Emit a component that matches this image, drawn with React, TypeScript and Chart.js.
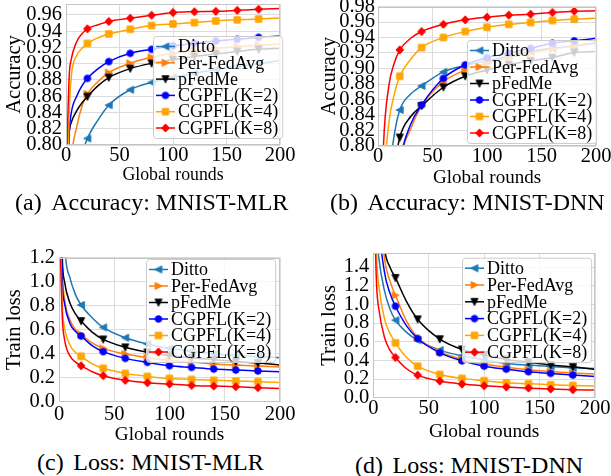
import React, { useEffect, useRef } from 'react';
import { Chart, registerables } from 'chart.js';

Chart.register(...registerables);

// ---------------- data ----------------
const rounds = [1, 3, 5, 10, 15, 20, 30, 40, 60, 80, 100, 120, 140, 160, 180, 200];
const xTickValues = [0, 50, 100, 150, 200];
const seriesNames = ['Ditto', 'Per-FedAvg', 'pFedMe', 'CGPFL(K=2)', 'CGPFL(K=4)', 'CGPFL(K=8)'];

// (a) Accuracy: MNIST-MLR
const accMlrDitto = [0.60, 0.65, 0.69, 0.75, 0.788, 0.808, 0.831, 0.849, 0.868, 0.877, 0.883, 0.888, 0.893, 0.897, 0.900, 0.904];
const accMlrPerFedAvg = [0.60, 0.72, 0.78, 0.822, 0.848, 0.863, 0.878, 0.889, 0.9005, 0.908, 0.913, 0.916, 0.919, 0.921, 0.923, 0.924];
const accMlrPFedMe = [0.76, 0.815, 0.828, 0.842, 0.852, 0.8595, 0.873, 0.883, 0.894, 0.9005, 0.905, 0.909, 0.912, 0.915, 0.9177, 0.919];
const accMlrK2 = [0.74, 0.815, 0.84, 0.86, 0.873, 0.882, 0.894, 0.9026, 0.9128, 0.9177, 0.922, 0.925, 0.928, 0.930, 0.9325, 0.934];
const accMlrK4 = [0.74, 0.84, 0.885, 0.91, 0.919, 0.925, 0.932, 0.9366, 0.9424, 0.947, 0.949, 0.9506, 0.9526, 0.954, 0.955, 0.9563];
const accMlrK8 = [0.80, 0.885, 0.906, 0.927, 0.937, 0.943, 0.948, 0.952, 0.956, 0.9596, 0.963, 0.964, 0.9645, 0.9657, 0.967, 0.968];

// (b) Accuracy: MNIST-DNN
const accDnnDitto = [0.50, 0.60, 0.67, 0.76, 0.815, 0.8465, 0.867, 0.8775, 0.8956, 0.9038, 0.910, 0.916, 0.922, 0.926, 0.929, 0.9326];
const accDnnPerFedAvg = [0.40, 0.50, 0.55, 0.65, 0.72, 0.78, 0.822, 0.8517, 0.883, 0.898, 0.907, 0.914, 0.920, 0.925, 0.929, 0.934];
const accDnnPFedMe = [0.40, 0.50, 0.55, 0.70, 0.77, 0.811, 0.838, 0.8517, 0.8758, 0.890, 0.898, 0.905, 0.910, 0.914, 0.9206, 0.922];
const accDnnK2 = [0.40, 0.50, 0.55, 0.65, 0.72, 0.78, 0.828, 0.853, 0.8874, 0.9047, 0.914, 0.920, 0.926, 0.9326, 0.9357, 0.939];
const accDnnK4 = [0.50, 0.65, 0.74, 0.83, 0.867, 0.890, 0.912, 0.927, 0.940, 0.9477, 0.9533, 0.957, 0.9594, 0.962, 0.9637, 0.965];
const accDnnK8 = [0.50, 0.70, 0.80, 0.878, 0.907, 0.924, 0.939, 0.9477, 0.957, 0.9628, 0.9662, 0.9688, 0.970, 0.9723, 0.974, 0.9744];

// (c) Loss: MNIST-MLR
const lossMlrDitto = [3.0, 2.0, 1.33, 1.03, 0.89, 0.806, 0.70, 0.619, 0.533, 0.481, 0.445, 0.42, 0.40, 0.385, 0.375, 0.367];
const lossMlrPerFedAvg = [1.9, 1.08, 0.86, 0.68, 0.60, 0.561, 0.49, 0.444, 0.397, 0.367, 0.345, 0.33, 0.315, 0.305, 0.297, 0.289];
const lossMlrPFedMe = [2.2, 1.2, 1.0, 0.82, 0.73, 0.672, 0.58, 0.519, 0.453, 0.411, 0.385, 0.365, 0.35, 0.335, 0.322, 0.306];
const lossMlrK2 = [1.8, 1.0, 0.82, 0.65, 0.585, 0.547, 0.468, 0.417, 0.361, 0.328, 0.30, 0.286, 0.272, 0.264, 0.256, 0.25];
const lossMlrK4 = [1.5, 0.80, 0.62, 0.47, 0.41, 0.378, 0.315, 0.278, 0.236, 0.211, 0.194, 0.186, 0.178, 0.172, 0.167, 0.161];
const lossMlrK8 = [1.35, 0.70, 0.52, 0.38, 0.33, 0.30, 0.25, 0.217, 0.178, 0.158, 0.147, 0.136, 0.13, 0.125, 0.117, 0.111];

// (d) Loss: MNIST-DNN
const lossDnnDitto = [3.0, 1.8, 1.5, 1.15, 0.95, 0.83, 0.70, 0.616, 0.51, 0.449, 0.405, 0.367, 0.35, 0.335, 0.32, 0.313];
const lossDnnPerFedAvg = [4.0, 3.0, 2.2, 1.5, 1.25, 1.097, 0.82, 0.645, 0.492, 0.41, 0.36, 0.326, 0.30, 0.28, 0.265, 0.253];
const lossDnnPFedMe = [4.5, 3.3, 2.5, 1.62, 1.40, 1.283, 1.03, 0.84, 0.627, 0.517, 0.46, 0.41, 0.38, 0.349, 0.331, 0.303];
const lossDnnK2 = [3.5, 2.5, 1.9, 1.35, 1.12, 0.98, 0.77, 0.634, 0.481, 0.395, 0.338, 0.306, 0.278, 0.26, 0.242, 0.228];
const lossDnnK4 = [2.5, 1.5, 1.2, 0.85, 0.69, 0.588, 0.43, 0.338, 0.249, 0.207, 0.182, 0.160, 0.15, 0.139, 0.132, 0.125];
const lossDnnK8 = [2.0, 1.2, 0.95, 0.65, 0.51, 0.431, 0.31, 0.242, 0.178, 0.146, 0.128, 0.114, 0.103, 0.093, 0.0855, 0.082];

// tick labels
const accTicksMlr = [0.80, 0.82, 0.84, 0.86, 0.88, 0.90, 0.92, 0.94, 0.96];
const accTicksDnn = [0.80, 0.82, 0.84, 0.86, 0.88, 0.90, 0.92, 0.94, 0.96, 0.98];
const lossTicksMlr = [0.0, 0.2, 0.4, 0.6, 0.8, 1.0, 1.2];
const lossTicksDnn = [0.0, 0.2, 0.4, 0.6, 0.8, 1.0, 1.2, 1.4];

// ---------------- styles ----------------
const FONT = "'Liberation Serif', 'DejaVu Serif', 'Times New Roman', serif";
const TICK_FS = 20.5;
const YTITLE_FS = 20.5;
const LEGEND_FS = 18;
const GRID = '#dcdcdc';
const FRAME = '#c4c4c4';
const STYLES = [
  { color: '#1f77b4', marker: 'left' },
  { color: '#ff7f0e', marker: 'right' },
  { color: '#000000', marker: 'down' },
  { color: '#0000ff', marker: 'circle' },
  { color: '#ffa500', marker: 'square' },
  { color: '#ff0000', marker: 'diamond' },
];

function makeMarker(shape: string, color: string) {
  const c = document.createElement('canvas');
  c.width = 12;
  c.height = 12;
  const g = c.getContext('2d')!;
  g.fillStyle = color;
  g.strokeStyle = color;
  g.lineWidth = 1;
  const cx = 6, cy = 6;
  g.beginPath();
  switch (shape) {
    case 'circle':
      g.arc(cx, cy, 3.3, 0, Math.PI * 2);
      break;
    case 'square':
      g.rect(cx - 3.2, cy - 3.2, 6.4, 6.4);
      break;
    case 'diamond':
      g.moveTo(cx, cy - 4.1); g.lineTo(cx + 3.8, cy); g.lineTo(cx, cy + 4.1); g.lineTo(cx - 3.8, cy);
      g.closePath();
      break;
    case 'left':
      g.moveTo(cx - 3.7, cy); g.lineTo(cx + 3.3, cy - 3.5); g.lineTo(cx + 3.3, cy + 3.5);
      g.closePath();
      break;
    case 'right':
      g.moveTo(cx + 3.7, cy); g.lineTo(cx - 3.3, cy - 3.5); g.lineTo(cx - 3.3, cy + 3.5);
      g.closePath();
      break;
    case 'down':
      g.moveTo(cx - 3.5, cy - 3.3); g.lineTo(cx + 3.5, cy - 3.3); g.lineTo(cx, cy + 3.7);
      g.closePath();
      break;
  }
  g.fill();
  g.stroke();
  return c;
}

type Spec = {
  key: string;
  canvas: { left: number; top: number; w: number; h: number };
  plot: { l: number; t: number; r: number; b: number };
  yMin: number; yMax: number; yTicks: number[]; digits: number;
  yTitle: string; yTitleX: number; xTitleY: number; xTitleFs: number; xTickPad: number; yTickPad: number;
  legend: { x: number; y: number; rowH: number };
  caption: { label: string; text: string; x: number; y: number };
  series: number[][];
};

const SPECS: Spec[] = [
  {
    key: 'a',
    canvas: { left: 0, top: 0, w: 305, h: 190 },
    plot: { l: 66, t: 4, r: 280, b: 145 },
    yMin: 0.8, yMax: 0.9735, yTicks: accTicksMlr, digits: 2,
    yTitle: 'Accuracy', yTitleX: 15, xTitleY: 175, xTitleFs: 17.8, xTickPad: 0, yTickPad: 4,
    legend: { x: 153, y: 36, rowH: 16.3 },
    caption: { label: '(a)', text: 'Accuracy: MNIST-MLR', x: 15, y: 202 },
    series: [accMlrDitto, accMlrPerFedAvg, accMlrPFedMe, accMlrK2, accMlrK4, accMlrK8],
  },
  {
    key: 'b',
    canvas: { left: 305, top: 0, w: 306, h: 190 },
    plot: { l: 378, t: 6.5, r: 596, b: 146 },
    yMin: 0.8, yMax: 0.98, yTicks: accTicksDnn, digits: 2,
    yTitle: 'Accuracy', yTitleX: 330, xTitleY: 178, xTitleFs: 19, xTickPad: 0, yTickPad: 3,
    legend: { x: 467, y: 40, rowH: 16.5 },
    caption: { label: '(b)', text: 'Accuracy: MNIST-DNN', x: 330, y: 202 },
    series: [accDnnDitto, accDnnPerFedAvg, accDnnPFedMe, accDnnK2, accDnnK4, accDnnK8],
  },
  {
    key: 'c',
    canvas: { left: 0, top: 240, w: 305, h: 205 },
    plot: { l: 59, t: 257.7, r: 280, b: 401.7 },
    yMin: 0, yMax: 1.2, yTicks: lossTicksMlr, digits: 1,
    yTitle: 'Train loss', yTitleX: 15, xTitleY: 435, xTitleFs: 19.2, xTickPad: 2.5, yTickPad: 4,
    legend: { x: 146, y: 259, rowH: 16.5 },
    caption: { label: '(c)', text: 'Loss: MNIST-MLR', x: 37, y: 462 },
    series: [lossMlrDitto, lossMlrPerFedAvg, lossMlrPFedMe, lossMlrK2, lossMlrK4, lossMlrK8],
  },
  {
    key: 'd',
    canvas: { left: 305, top: 240, w: 306, h: 205 },
    plot: { l: 373.3, t: 253, r: 595, b: 397.7 },
    yMin: 0, yMax: 1.55, yTicks: lossTicksDnn, digits: 1,
    yTitle: 'Train loss', yTitleX: 330, xTitleY: 431.7, xTitleFs: 19.4, xTickPad: 1, yTickPad: 4,
    legend: { x: 462, y: 257.7, rowH: 16.8 },
    caption: { label: '(d)', text: 'Loss: MNIST-DNN', x: 355, y: 465 },
    series: [lossDnnDitto, lossDnnPerFedAvg, lossDnnPFedMe, lossDnnK2, lossDnnK4, lossDnnK8],
  },
];

function PanelChart({ spec }: { spec: Spec }) {
  const ref = useRef<HTMLCanvasElement>(null);
  const cv = spec.canvas;
  useEffect(() => {
    const pl = spec.plot;
    const markers = STYLES.map((s) => makeMarker(s.marker, s.color));
    const tickFont = { family: FONT, size: TICK_FS, lineHeight: 1 };
    const xTitleFont = { family: FONT, size: spec.xTitleFs, lineHeight: 1.2 };
    const yTitleFont = { family: FONT, size: YTITLE_FS, lineHeight: 1.2 };

    const datasets = spec.series.map((vals, i) => ({
      label: seriesNames[i],
      data: rounds.map((r, j) => ({ x: r, y: vals[j] })),
      borderColor: STYLES[i].color,
      backgroundColor: STYLES[i].color,
      borderWidth: 1.5,
      pointStyle: markers[i],
      pointRadius: (ctx: any) => {
        const x = ctx.raw && ctx.raw.x;
        return x % 20 === 0 && x >= 20 && x <= 180 ? 4 : 0;
      },
      pointHoverRadius: 0,
      cubicInterpolationMode: 'monotone',
      order: 5 - i,
    }));

    const overlay = {
      id: 'overlay' + spec.key,
      afterDatasetsDraw(chart: any) {
        const { ctx, chartArea: a } = chart;
        ctx.save();
        ctx.strokeStyle = FRAME;
        ctx.lineWidth = 1;
        const x0 = Math.round(a.left) + 0.5, y0 = Math.round(a.top) + 0.5;
        const x1 = Math.round(a.right) - 0.5, y1 = Math.round(a.bottom) - 0.5;
        ctx.strokeRect(x0, y0, x1 - x0, y1 - y0);
        ctx.restore();
      },
      afterDraw(chart: any) {
        const ctx = chart.ctx;
        const L = spec.legend;
        const lx = L.x - cv.left, ly = L.y - cv.top;
        ctx.save();
        ctx.font = `${LEGEND_FS}px ${FONT}`;
        let maxW = 0;
        seriesNames.forEach((n) => { maxW = Math.max(maxW, ctx.measureText(n).width); });
        const w = 25 + maxW + 4;
        const h = 10.5 + 5 * L.rowH + 10;
        ctx.beginPath();
        if (ctx.roundRect) ctx.roundRect(lx + 0.5, ly + 0.5, w, h, 3);
        else ctx.rect(lx + 0.5, ly + 0.5, w, h);
        ctx.fillStyle = 'rgba(255,255,255,0.8)';
        ctx.fill();
        ctx.strokeStyle = '#cccccc';
        ctx.lineWidth = 1;
        ctx.stroke();
        seriesNames.forEach((n, i) => {
          const ry = ly + 10.5 + i * L.rowH;
          ctx.beginPath();
          ctx.moveTo(lx + 3, ry);
          ctx.lineTo(lx + 22, ry);
          ctx.strokeStyle = STYLES[i].color;
          ctx.lineWidth = 1.5;
          ctx.stroke();
          ctx.drawImage(markers[i], lx + 12.5 - 6, ry - 6);
          ctx.fillStyle = '#000';
          ctx.textBaseline = 'middle';
          ctx.textAlign = 'left';
          ctx.fillText(n, lx + 25, ry + 1);
        });
        ctx.restore();
      },
    };

    const chart = new Chart(ref.current!, {
      type: 'line',
      data: { datasets: datasets as any },
      options: {
        responsive: false,
        animation: false,
        events: [],
        layout: { padding: { left: 0, top: pl.t - cv.top, right: cv.left + cv.w - pl.r, bottom: 0 } },
        plugins: { legend: { display: false }, tooltip: { enabled: false } },
        scales: {
          x: {
            type: 'linear',
            min: 0,
            max: 200,
            afterBuildTicks: (s: any) => { s.ticks = xTickValues.map((v) => ({ value: v })); },
            afterFit: (s: any) => { s.height = cv.top + cv.h - pl.b; s.paddingLeft = 0; s.paddingRight = 0; },
            ticks: { font: tickFont, color: '#000', padding: spec.xTickPad, maxRotation: 0, autoSkip: false, callback: (v: any) => String(v) },
            grid: { color: GRID, drawTicks: false, lineWidth: 1 },
            border: { display: false },
            title: {
              display: true, text: 'Global rounds', font: xTitleFont, color: '#000',
              padding: { top: 0, bottom: cv.top + cv.h - spec.xTitleY - (spec.xTitleFs * 1.2) / 2 },
            },
          },
          y: {
            type: 'linear',
            min: spec.yMin,
            max: spec.yMax,
            afterBuildTicks: (s: any) => { s.ticks = spec.yTicks.map((v) => ({ value: v })); },
            afterFit: (s: any) => { s.width = pl.l - cv.left; s.paddingTop = 0; s.paddingBottom = 0; },
            ticks: { font: tickFont, color: '#000', padding: spec.yTickPad, autoSkip: false, callback: (v: any) => Number(v).toFixed(spec.digits) },
            grid: { color: GRID, drawTicks: false, lineWidth: 1 },
            border: { display: false },
            title: {
              display: true, text: spec.yTitle, font: yTitleFont, color: '#000',
              padding: { top: spec.yTitleX - cv.left - (YTITLE_FS * 1.2) / 2, bottom: 0 },
            },
          },
        },
      } as any,
      plugins: [overlay],
    });
    return () => chart.destroy();
  }, []);
  return (
    <canvas
      ref={ref}
      width={cv.w}
      height={cv.h}
      style={{ position: 'absolute', left: cv.left, top: cv.top, width: cv.w, height: cv.h }}
    />
  );
}

export default function App() {
  return (
    <div style={{ position: 'absolute', left: 0, top: 0, width: 611, height: 476, background: '#fff', overflow: 'hidden' }}>
      {SPECS.map((s) => (
        <PanelChart key={s.key} spec={s} />
      ))}
      {SPECS.map((s) => (
        <div
          key={'cap' + s.key}
          style={{
            position: 'absolute',
            left: s.caption.x,
            top: s.caption.y - 15,
            height: 30,
            lineHeight: '30px',
            fontFamily: FONT,
            fontSize: 24,
            color: '#000',
            whiteSpace: 'pre',
          }}
        >
          <span style={{ marginRight: '0.4em' }}>{s.caption.label}</span>
          {s.caption.text}
        </div>
      ))}
    </div>
  );
}
